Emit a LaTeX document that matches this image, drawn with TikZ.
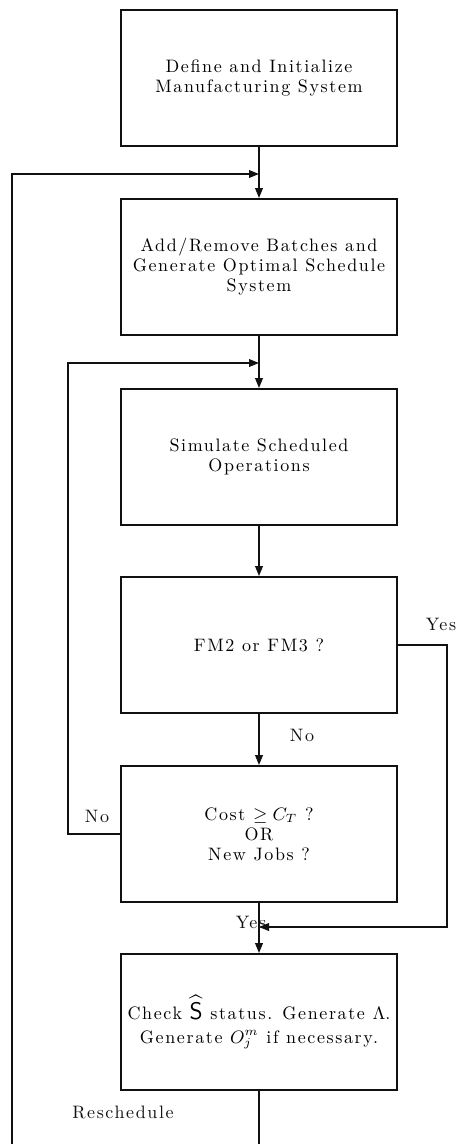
\documentclass[tikz,border=0pt]{standalone}
\usepackage{amsmath,amssymb}
\usepackage{fontspec}
\newfontfamily\chartfont{lmroman10-regular}[Extension=.otf,LetterSpace=9]
\usepackage{tikz}
\usetikzlibrary{arrows.meta,positioning}
\definecolor{ink}{HTML}{111111}
\tikzset{
  >={Triangle[length=5pt,width=3.8pt]},
  stage/.style={draw=ink,line width=.9pt,minimum width=138pt,minimum height=68pt,
    inner sep=0pt,align=center,font=\chartfont\fontsize{9}{10}\selectfont},
  flow/.style={->,line width=.9pt,color=ink},
  link/.style={line width=.9pt,color=ink},
  tag/.style={inner sep=0pt,text=ink,font=\chartfont\fontsize{9}{10}\selectfont},
}

\begin{document}
\begin{tikzpicture}[x=.5pt,y=-.5pt]
  \useasboundingbox (0,0) rectangle (456,1144);

  % stages of the loop
  \node[stage] (define) at (259,78) {Define and Initialize\\Manufacturing System};
  \node[stage] (batches) at (259,267) {Add/Remove Batches and\\Generate Optimal Schedule\\System};
  \node[stage] (simulate) at (259,457) {Simulate Scheduled\\Operations};
  \node[stage] (fmtest) at (259,645) {FM2 or FM3 ?};
  \node[stage] (costtest) at (259,834) {Cost $\geq C_T$ ?\\OR\\New Jobs ?};
  \node[stage] (check) at (259,1022)
    {Check {\large$\widehat{\mathsf{S}}$} status. Generate $\Lambda$.\\[2pt]Generate $O_j^m$ if necessary.};

  % junctions and corners
  \coordinate (join1) at (259,174);
  \coordinate (join2) at (259,363);
  \coordinate (join3) at (259,927);
  \coordinate (yescorner) at (447,645);
  \coordinate (nocorner) at (68,834);
  \coordinate (leftend) at (12,1144);
  \coordinate (downend) at (259,1144);

  \draw[flow] (define) -- (batches);
  \draw[flow] (batches) -- (simulate);
  \draw[flow] (simulate) -- (fmtest);
  \draw[flow] (fmtest) -- (costtest);
  \draw[flow] (costtest) -- (check);
  \draw[link] (check) -- (downend);

  \draw[flow] (fmtest.east) -- (yescorner) |- (join3);
  \draw[flow] (costtest.west) -- (nocorner) |- (join2);
  \draw[flow] (leftend) |- (join1);

  % labels
  \node[tag] (yesfm) at (441,624) {Yes};
  \node[tag] (nofm) at (302,735) {No};
  \node[tag] (nocost) at (97,816) {No};
  \node[tag] (yescost) at (251,922) {Yes};
  \node[tag] (resched) at (123,1112) {Reschedule};
\end{tikzpicture}
\end{document}
